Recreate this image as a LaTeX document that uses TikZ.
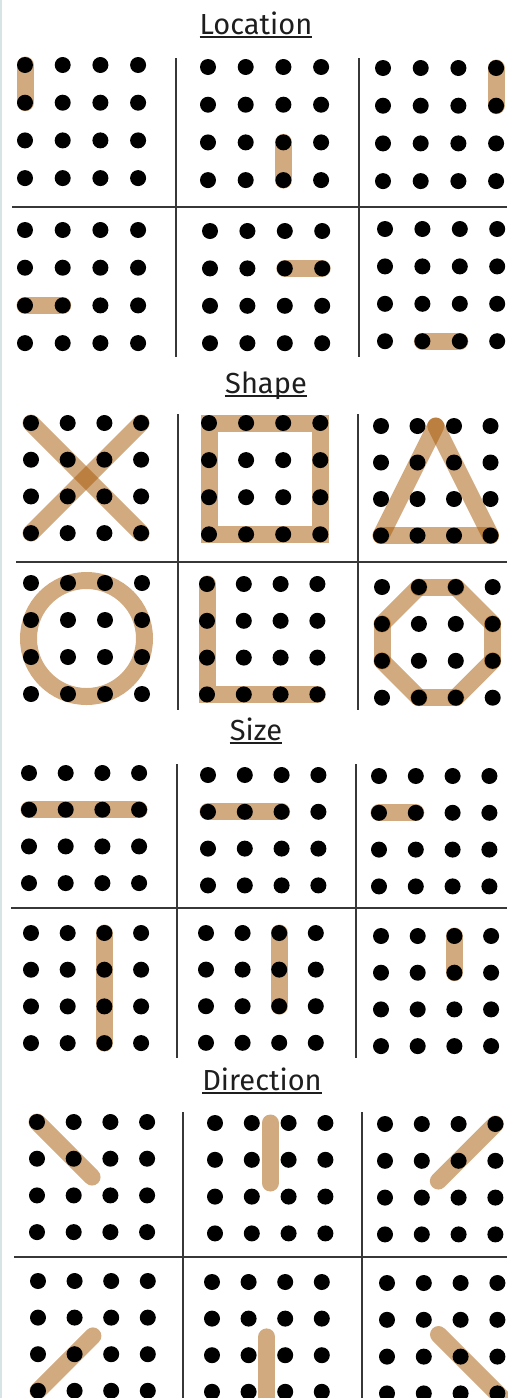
\documentclass[tikz,border=0pt]{standalone}
\usepackage{fontspec}
\setmainfont{Fira Sans}
\usetikzlibrary{calc}
\pgfdeclarelayer{fg}
\pgfsetlayers{main,fg}
\definecolor{bandtan}{RGB}{165,85,0}
\definecolor{rulegray}{RGB}{55,55,55}
\definecolor{inkgray}{RGB}{30,30,30}
\definecolor{edgeblue}{RGB}{214,228,230}

% 4x4 board of pegs: name, first peg x, first peg y, spacing
\newcommand{\pegs}[4]{%
  \begin{pgfonlayer}{fg}
  \foreach \i in {1,...,4}{
    \foreach \j in {1,...,4}{
      \coordinate (#1-\i\j) at ({#2+(\i-1)*#4},{#3+(\j-1)*#4});
      \fill (#1-\i\j) circle (8pt);
    }
  }
  \end{pgfonlayer}}

\begin{document}
\begin{tikzpicture}[x=1pt, y=-1pt,
  title/.style={anchor=base, inner sep=0pt, text=inkgray, font=\fontsize{29}{34}\selectfont},
  ul/.style={line width=1.4pt, draw=inkgray},
  grid/.style={line width=1.5pt, draw=rulegray},
  band/.style={line width=17pt, draw=bandtan, draw opacity=0.5, line cap=round}]
\useasboundingbox (0,0) rectangle (507,1398);
\fill[edgeblue] (0,0) rectangle (1.5,1398);

% Location
\node[title] (loc) at (256,34) {Location};
\draw[ul] ([yshift=-3pt]loc.base west) -- ([yshift=-3pt]loc.base east);
\draw[grid] (176,58) -- (176,357);
\draw[grid] (359,58) -- (359,357);
\draw[grid] (12,207) -- (507,207);
\pegs{A1}{25}{65}{37.7}
\pegs{A2}{208}{67}{37.7}
\pegs{A3}{383}{68}{37.7}
\pegs{A4}{25}{230}{37.7}
\pegs{A5}{210}{231}{37.4}
\pegs{A6}{385}{229}{37.4}
\draw[band] (A1-11) -- (A1-12);
\draw[band] (A2-33) -- (A2-34);
\draw[band] (A3-41) -- (A3-42);
\draw[band] (A4-13) -- (A4-23);
\draw[band] (A5-32) -- (A5-42);
\draw[band] (A6-24) -- (A6-34);

% Shape
\node[title] (shp) at (266,393) {Shape};
\draw[ul] ([yshift=-3pt]shp.base west) -- ([yshift=-3pt]shp.base east);
\draw[grid] (178,414) -- (178,710);
\draw[grid] (358,414) -- (358,710);
\draw[grid] (16,562) -- (507,562);
\pegs{B1}{31}{423}{36.7}
\pegs{B2}{209}{423}{37.1}
\pegs{B3}{381}{426}{36.5}
\pegs{B4}{31}{583}{37}
\pegs{B5}{207}{584}{36.8}
\pegs{B6}{382}{587}{36.9}
\draw[band] (B1-11) -- (B1-44);
\draw[band] (B1-41) -- (B1-14);
\draw[band, line cap=butt] (B2-11) rectangle (B2-44);
\coordinate (apex) at ($(B3-21)!0.5!(B3-31)$);
\draw[band] (B3-14) -- (B3-44);
\draw[band] (B3-14) -- (apex);
\draw[band] (apex) -- (B3-44);
\draw[band] ($(B4-11)!0.5!(B4-44)$) circle (58pt);
\draw[band] (B5-11) -- (B5-14) -- (B5-44);
\draw[band] (B6-21) -- (B6-31);
\draw[band] (B6-31) -- (B6-42);
\draw[band] (B6-42) -- (B6-43);
\draw[band] (B6-43) -- (B6-34);
\draw[band] (B6-34) -- (B6-24);
\draw[band] (B6-24) -- (B6-13);
\draw[band] (B6-13) -- (B6-12);
\draw[band] (B6-12) -- (B6-21);

% Size
\node[title] (siz) at (256,740) {Size};
\draw[ul] ([yshift=-3pt]siz.base west) -- ([yshift=-3pt]siz.base east);
\draw[grid] (177,764) -- (177,1058);
\draw[grid] (356,764) -- (356,1058);
\draw[grid] (11,908) -- (507,908);
\pegs{C1}{29}{773}{36.7}
\pegs{C2}{208}{775}{36.8}
\pegs{C3}{379}{776}{36.8}
\pegs{C4}{31}{933}{36.7}
\pegs{C5}{206}{933}{36.6}
\pegs{C6}{381}{936}{36.7}
\draw[band] (C1-12) -- (C1-42);
\draw[band] (C2-12) -- (C2-32);
\draw[band] (C3-12) -- (C3-22);
\draw[band] (C4-31) -- (C4-34);
\draw[band] (C5-31) -- (C5-33);
\draw[band] (C6-31) -- (C6-32);

% Direction
\node[title] (dir) at (262,1090) {Direction};
\draw[ul] ([yshift=-3pt]dir.base west) -- ([yshift=-3pt]dir.base east);
\draw[grid] (183,1112) -- (183,1398);
\draw[grid] (362,1112) -- (362,1398);
\draw[grid] (14,1257) -- (507,1257);
\pegs{D1}{37}{1122}{36.7}
\pegs{D2}{215}{1123}{36.8}
\pegs{D3}{385}{1124}{36.8}
\pegs{D4}{38}{1281}{36.6}
\pegs{D5}{212}{1282}{36.6}
\pegs{D6}{387}{1283}{36.8}
\draw[band] (D1-11) -- ($(D1-11)!1.5!(D1-22)$);
\draw[band] ($(D2-21)!0.5!(D2-31)$) -- ++(0,60);
\draw[band] (D3-41) -- ($(D3-41)!1.55!(D3-32)$);
\draw[band] (D4-14) -- ($(D4-14)!1.5!(D4-23)$);
\draw[band] ($(D5-22)!0.5!(D5-33)$) -- ++(0,80);
\draw[band] ($(D6-44)!1.6!(D6-33)$) -- ($(D6-33)!1.8!(D6-44)$);
\end{tikzpicture}
\end{document}
